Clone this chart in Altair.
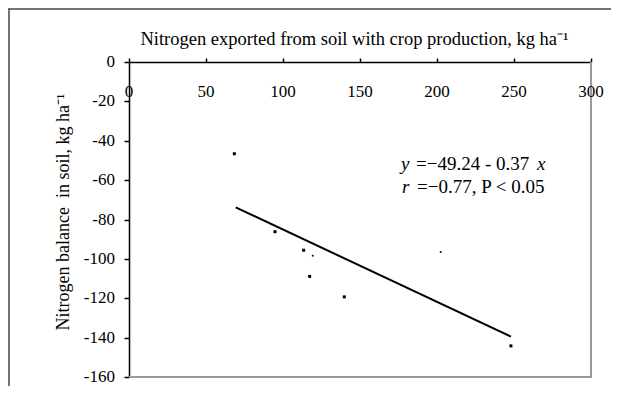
import altair as alt
import pandas as pd

# ---- data ----
x_vals = [68.4, 94.8, 113.4, 117.3, 139.8, 248.0]
y_vals = [-46.6, -86.2, -95.6, -108.9, -119.3, -144.2]
x_small = [119.3, 202.4]
y_small = [-98.4, -96.5]
fit_x = [69.3, 248.0]
fit_y = [-73.8, -139.5]
x_ticks = [0, 50, 100, 150, 200, 250, 300]
x_labels = ["0", "50", "100", "150", "200", "250", "300"]
y_ticks = [0, -20, -40, -60, -80, -100, -120, -140, -160]
y_labels = ["0", "-20", "-40", "-60", "-80", "-100", "-120", "-140", "-160"]

eq_italic = ["y", "r"]
eq_rest = ["=\u221249.24 - 0.37", "=\u22120.77, P < 0.05"]
eq_x = [176.6, 177.3]
eq_y = [-51.8, -63.5]

FONT = "Liberation Serif"
W, H = 462, 315

xs = alt.Scale(domain=[0, 300], nice=False, zero=False)
ys = alt.Scale(domain=[-160, 0], nice=False, zero=False)

common = dict(
    grid=False, labels=False, tickWidth=1.5, tickColor="black",
    domainColor="black", domainWidth=1.5,
    titleFont=FONT, titleFontWeight="normal", titleColor="black",
)

xaxis = alt.Axis(
    orient="top", values=x_ticks, tickSize=4,
    title="Nitrogen exported from soil with crop production, kg ha\u207b\u00b9",
    titleFontSize=18.5,
    titleX=225, titleY=-18, titleBaseline="alphabetic", titleAnchor="middle", titleAlign="center",
    **common,
)
yaxis = alt.Axis(
    orient="left", values=y_ticks, tickSize=5,
    title="Nitrogen balance\u00a0 in soil, kg ha\u207b\u00b9",
    titleFontSize=18,
    titleAngle=270, titleX=-66, titleY=149.5, titleBaseline="middle", titleAlign="center",
    **common,
)

base = alt.Chart().encode(
    x=alt.X("x:Q", scale=xs, axis=xaxis),
    y=alt.Y("y:Q", scale=ys, axis=yaxis),
)

pts = pd.DataFrame({"x": x_vals, "y": y_vals})
small = pd.DataFrame({"x": x_small, "y": y_small})
fit = pd.DataFrame({"x": fit_x, "y": fit_y})
eq = pd.DataFrame({"it": eq_italic, "rest": eq_rest, "x": eq_x, "y": eq_y})
xl = pd.DataFrame({"x": x_ticks, "lab": x_labels})
yl = pd.DataFrame({"y": y_ticks, "lab": y_labels})

points = base.mark_square(size=9, color="black", opacity=1).properties(data=pts)
points_small = base.mark_square(size=3, color="black", opacity=1).properties(data=small)
line = base.mark_line(color="black", strokeWidth=2).properties(data=fit)

eq_it = base.mark_text(
    font=FONT, fontSize=19, fontStyle="italic", align="left", baseline="middle", color="black"
).encode(text="it:N").properties(data=eq)
eq_txt = base.mark_text(
    font=FONT, fontSize=19, align="left", baseline="middle", color="black", dx=15
).encode(text="rest:N").properties(data=eq)
eq_xvar = base.mark_text(
    font=FONT, fontSize=19, fontStyle="italic", align="left", baseline="middle", color="black", dx=136
).encode(text=alt.value("x")).properties(data=eq.iloc[:1])

xlab = alt.Chart(xl).mark_text(
    font=FONT, fontSize=17, align="center", baseline="middle", color="black", dy=30
).encode(x=alt.X("x:Q", scale=xs, axis=xaxis), y=alt.value(0), text="lab:N")
ylab = alt.Chart(yl).mark_text(
    font=FONT, fontSize=17, align="right", baseline="middle", color="black"
).encode(y=alt.Y("y:Q", scale=ys, axis=yaxis), x=alt.value(-14), text="lab:N")

one = alt.Data(values=[{"a": 1}])
plot_right = alt.Chart(one).mark_rule(color="#9a9a9a", strokeWidth=2).encode(
    x=alt.value(W), y=alt.value(0), y2=alt.value(H + 1))
plot_bottom = alt.Chart(one).mark_rule(color="#9a9a9a", strokeWidth=2).encode(
    x=alt.value(0), x2=alt.value(W + 1), y=alt.value(H))
frame_top = alt.Chart(one).mark_rule(color="#444444", strokeWidth=1.5).encode(
    x=alt.value(-121), x2=alt.value(482), y=alt.value(-53))
frame_left = alt.Chart(one).mark_rule(color="#444444", strokeWidth=1.5).encode(
    x=alt.value(-120), y=alt.value(-53), y2=alt.value(324))

chart = alt.layer(
    plot_right, plot_bottom, points, points_small, line, eq_it, eq_txt, eq_xvar,
    xlab, ylab, frame_top, frame_left
).properties(
    width=W, height=H,
    background="white",
    autosize=alt.AutoSizeParams(type="none"),
    padding={"left": 121, "top": 54, "right": 21, "bottom": 9},
).configure_view(
    stroke="transparent"
)

chart.save("out.html", embed_options={"renderer": "svg", "actions": False})
